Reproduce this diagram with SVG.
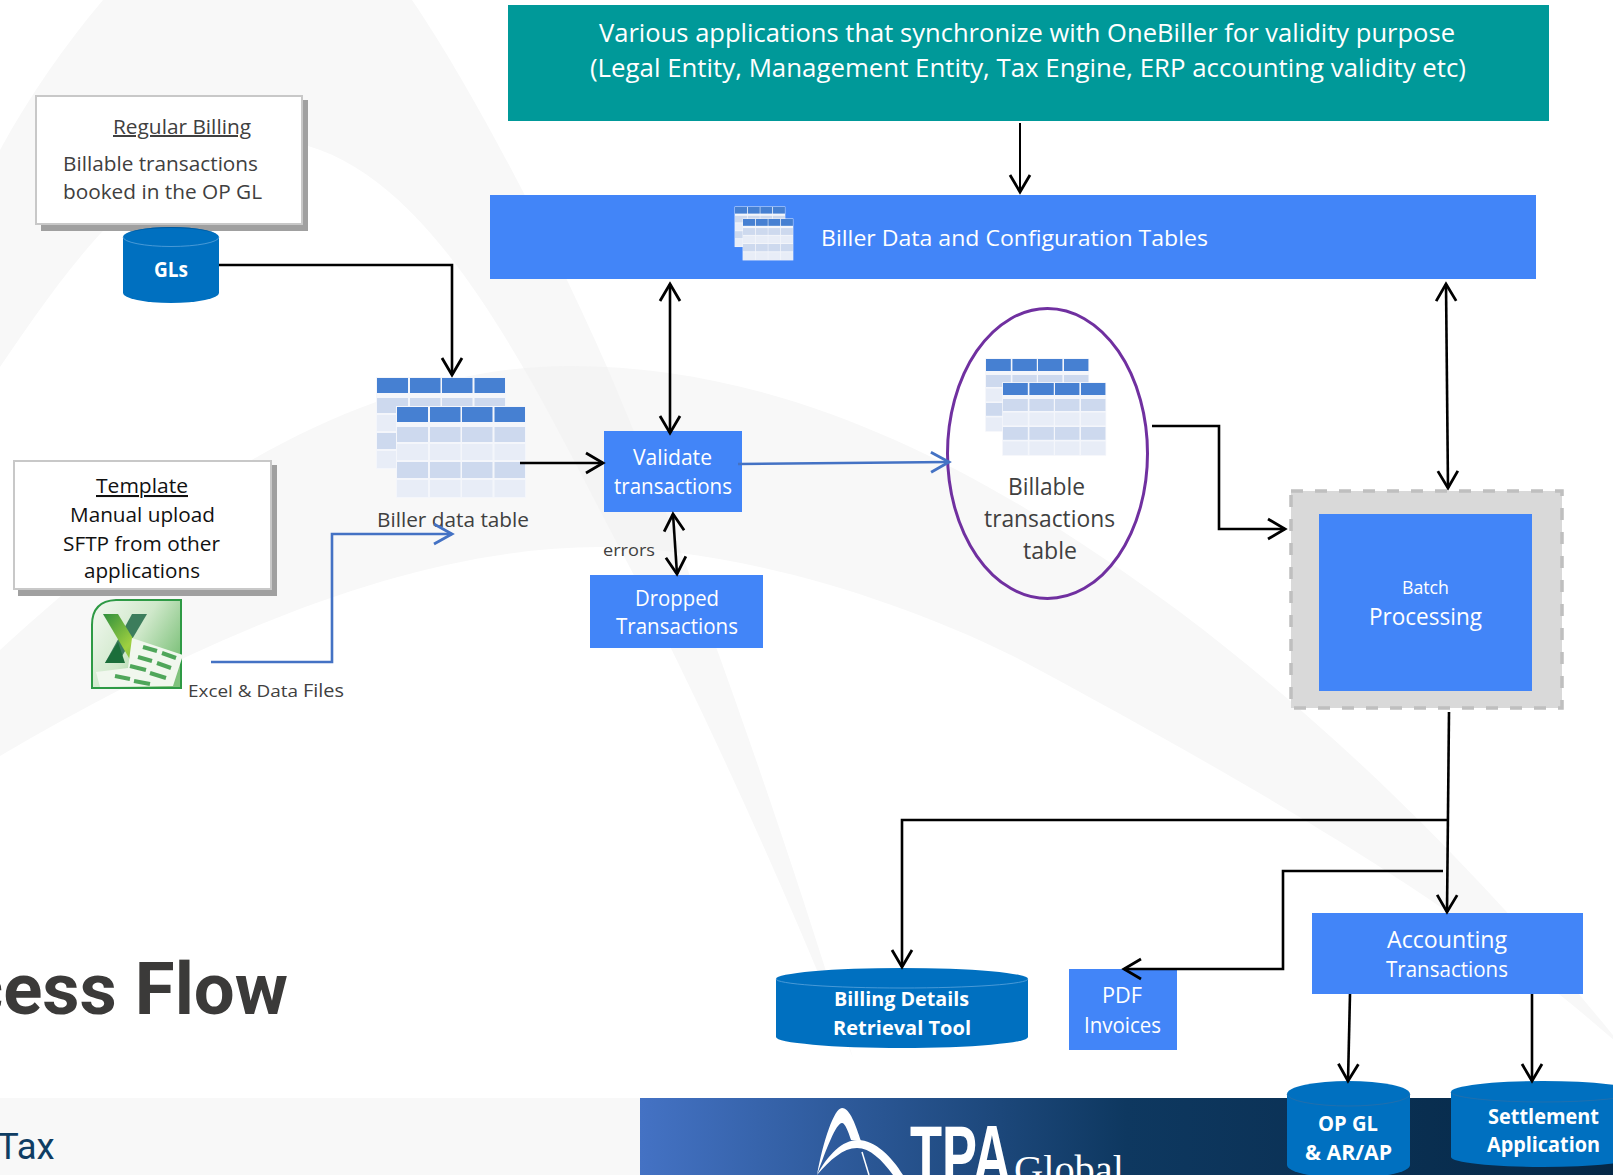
<svg xmlns="http://www.w3.org/2000/svg" width="1613" height="1175" viewBox="0 0 1613 1175">
<defs>
<style>
text{font-family:"Open Sans","Noto Sans","Liberation Sans",sans-serif}
.w{fill:#fff}.d{fill:#404040}.k{fill:#111}
.b{font-weight:700;fill:#fff}
.blue{fill:#4285f8}
.c{fill:none;stroke:#000;stroke-width:2.6;stroke-linejoin:miter}
.cb{fill:none;stroke:#4472c4;stroke-width:2.6}
.cyl{fill:#0070c0}
.rim{fill:none;stroke:#5aa3dc;stroke-width:.8}
.sh{fill:#a0a0a0}.box{fill:#fff;stroke:#c8c8c8;stroke-width:2}
.bg{fill:#f8f8f8}
.th{fill:#4680d2}.r1{fill:#cdd9ee}.r2{fill:#e8edf7}
</style>
<marker id="a" viewBox="-20 -12 24 24" markerUnits="userSpaceOnUse" markerWidth="24" markerHeight="24" refX="0" refY="0" orient="auto-start-reverse" overflow="visible"><path d="M-17,-10 L0,0 L-17,10" fill="none" stroke="#000" stroke-width="2.8"/></marker>
<marker id="ab" viewBox="-20 -12 24 24" markerUnits="userSpaceOnUse" markerWidth="24" markerHeight="24" refX="0" refY="0" orient="auto" overflow="visible"><path d="M-18,-10 L0,0 L-18,10" fill="none" stroke="#4472c4" stroke-width="2.8"/></marker>
<linearGradient id="banner" x1="0" x2="1" y1="0" y2="0"><stop offset="0" stop-color="#4472c4"/><stop offset=".5" stop-color="#0e3860"/><stop offset="1" stop-color="#062846"/></linearGradient>
<linearGradient id="xl" x1="0" x2="1" y1="0" y2=".6"><stop offset="0" stop-color="#f4f9f2"/><stop offset=".55" stop-color="#cfe8ca"/><stop offset="1" stop-color="#7fc27c"/></linearGradient>
<linearGradient id="xa" x1="0" x2="1" y1="0" y2="1"><stop offset="0" stop-color="#2f8f3c"/><stop offset=".6" stop-color="#9fd040"/><stop offset="1" stop-color="#5ba83a"/></linearGradient>
<clipPath id="bandclip"><path d="M0,650 C120,540 330,366 570,366 C800,366 1000,480 1180,612 C1330,725 1480,870 1625,1050 C1480,920 1300,810 1015,657 C880,590 720,548 600,547 C400,547 180,650 0,756Z"/></clipPath>
<g id="tbl">
<rect x="-1" y="-1" width="130" height="92" fill="#f4f6fb"/>
<g class="th"><rect width="31" height="15"/><rect x="33" width="30.500" height="15"/><rect x="65" width="30.500" height="15"/><rect x="97.500" width="30.500" height="15"/></g>
<g class="r1"><rect y="20" width="31" height="15"/><rect x="33" y="20" width="30.500" height="15"/><rect x="65" y="20" width="30.500" height="15"/><rect x="97.500" y="20" width="30.500" height="15"/></g>
<g class="r2"><rect y="37" width="31" height="16"/><rect x="33" y="37" width="30.500" height="16"/><rect x="65" y="37" width="30.500" height="16"/><rect x="97.500" y="37" width="30.500" height="16"/></g>
<g class="r1"><rect y="55" width="31" height="16"/><rect x="33" y="55" width="30.500" height="16"/><rect x="65" y="55" width="30.500" height="16"/><rect x="97.500" y="55" width="30.500" height="16"/></g>
<g class="r2"><rect y="73" width="31" height="17"/><rect x="33" y="73" width="30.500" height="17"/><rect x="65" y="73" width="30.500" height="17"/><rect x="97.500" y="73" width="30.500" height="17"/></g>
</g>
</defs>

<rect width="1613" height="1175" fill="#fff"/>
<g id="background">
<path class="bg" d="M0,650 C120,540 330,366 570,366 C800,366 1000,480 1180,612 C1330,725 1480,870 1625,1050 C1480,920 1300,810 1015,657 C880,590 720,548 600,547 C400,547 180,650 0,756Z"/>
<path class="bg" d="M0,150 C30,95 65,45 103,0 L412,0 C480,100 560,260 607,367 C690,560 790,850 853,1058 C790,900 700,700 627,562 C540,400 430,145 270,140 C150,140 60,280 0,367Z"/>
<path fill="#f4f4f4" clip-path="url(#bandclip)" d="M0,150 C30,95 65,45 103,0 L412,0 C480,100 560,260 607,367 C690,560 790,850 853,1058 C790,900 700,700 627,562 C540,400 430,145 270,140 C150,140 60,280 0,367Z"/>
<rect y="1098" width="640" height="77" fill="#f8f8f8"/>
<rect x="640" y="1098" width="973" height="77" fill="url(#banner)"/>
</g>

<g id="title"><text x="288" y="1014" text-anchor="end" style="font-family:Roboto,sans-serif;font-weight:700;font-size:72.500px" fill="#3b3a39">cess Flow</text></g>
<g id="footer-tax"><text x="-3" y="1159" style="font-family:Roboto,sans-serif;font-size:36.500px" fill="#0f3d63">Tax</text></g>
<g id="logo">
<path fill="#fff" d="M817,1175 C823,1142 834,1108 842,1108 C850,1108 856,1126 861,1141 L851,1140 C848,1131 845,1123 842,1123 C836,1123 826,1150 817,1175Z"/>
<path fill="#fff" d="M817,1175 C828,1155 842,1140 858,1140 C875,1140 892,1157 903,1175 L893,1175 C882,1160 870,1148 857,1148 C843,1148 830,1160 817,1175Z"/>
<path d="M862,1152 L869,1175" stroke="#fff" stroke-width="1.500" fill="none"/>
<text x="910" y="1184" textLength="101" lengthAdjust="spacingAndGlyphs" style="font-family:'Liberation Sans',sans-serif;font-weight:700;font-size:83px" fill="#fff">TPA</text>
<text x="1014" y="1183" textLength="110" lengthAdjust="spacingAndGlyphs" style="font-family:'Liberation Serif',serif;font-size:41px" fill="#fff">Global</text>
</g>

<g id="apps"><rect x="508" y="5" width="1041" height="116" fill="#009999"/>
<text class="w" x="599" y="42" textLength="856" lengthAdjust="spacingAndGlyphs" font-size="25">Various applications that synchronize with OneBiller for validity purpose</text>
<text class="w" x="590" y="77" textLength="876" lengthAdjust="spacingAndGlyphs" font-size="25">(Legal Entity, Management Entity, Tax Engine, ERP accounting validity etc)</text></g>

<g id="biller-config"><rect class="blue" x="490" y="195" width="1046" height="84"/>
<use href="#tbl" transform="translate(735 207) scale(.39 .44)"/>
<use href="#tbl" transform="translate(743 219) scale(.39 .455)"/>
<text class="w" x="821" y="246" textLength="387" lengthAdjust="spacingAndGlyphs" font-size="22">Biller Data and Configuration Tables</text></g>

<g id="regular-billing"><rect class="sh" x="41" y="100" width="267" height="131"/><rect class="box" x="36" y="96" width="266" height="128"/>
<text class="d" x="113" y="134" textLength="138" lengthAdjust="spacingAndGlyphs" font-size="20" text-decoration="underline">Regular Billing</text>
<text class="d" x="63" y="171" textLength="195" lengthAdjust="spacingAndGlyphs" font-size="20">Billable transactions</text>
<text class="d" x="63" y="199" textLength="199" lengthAdjust="spacingAndGlyphs" font-size="20">booked in the OP GL</text></g>

<g id="gls"><path class="cyl" d="M123,237 A48,10 0 0 1 219,237 V293 A48,10 0 0 1 123,293Z"/><path d="M123,237 A48,10 0 0 1 219,237 A48,9 0 0 0 123,237Z" fill="#005a9e"/><path class="rim" d="M123,237 A48,9.500 0 0 0 219,237"/>
<text class="b" x="154" y="277" textLength="34" lengthAdjust="spacingAndGlyphs" font-size="21">GLs</text></g>

<g id="template"><rect class="sh" x="18" y="465" width="259" height="131"/><rect class="box" x="14" y="461" width="257" height="128"/>
<text class="k" x="96" y="493" textLength="92" lengthAdjust="spacingAndGlyphs" font-size="20.500" text-decoration="underline">Template</text>
<text class="k" x="70" y="522" textLength="145" lengthAdjust="spacingAndGlyphs" font-size="20.500">Manual upload</text>
<text class="k" x="63" y="551" textLength="157" lengthAdjust="spacingAndGlyphs" font-size="20.500">SFTP from other</text>
<text class="k" x="84" y="578" textLength="116" lengthAdjust="spacingAndGlyphs" font-size="20.500">applications</text></g>

<g id="excel">
<path d="M92,688 V625 Q92,601 116,600 H181 V688Z" fill="url(#xl)" stroke="#2e9a45" stroke-width="2"/>
<path d="M132,614 H147 L118,663 H105Z" fill="#3c7d5c"/>
<path d="M105,663 H125 L118,642Z" fill="#1b6e3a"/>
<path d="M103,614 H118 L148,663 H132Z" fill="url(#xa)"/>
<path d="M132,638 L183,655 L173,686 L100,687 L96,672 L128,668Z" fill="#f1f7ee"/>
<path d="M143,647 L157,651 M162,653 L176,658 M138,657 L152,661 M157,663 L171,668 M130,666 L146,670 M150,673 L166,678 M115,676 L130,679 M134,681 L150,684" stroke="#4fa65a" stroke-width="4" fill="none"/>
</g>
<g id="excel-label"><text class="d" x="188" y="697" textLength="110" lengthAdjust="spacingAndGlyphs" font-size="17">Excel &amp; Data</text><text class="d" x="303" y="697" textLength="41" lengthAdjust="spacingAndGlyphs" font-size="19">Files</text></g>

<g id="biller-data-table"><use href="#tbl" transform="translate(377 378)"/><use href="#tbl" transform="translate(397 407)"/>
<text class="d" x="377" y="527" textLength="152" lengthAdjust="spacingAndGlyphs" font-size="20">Biller data table</text></g>

<g id="validate"><rect class="blue" x="604" y="431" width="138" height="81"/>
<text class="w" x="633" y="465" textLength="79" lengthAdjust="spacingAndGlyphs" font-size="21">Validate</text>
<text class="w" x="614" y="494" textLength="118" lengthAdjust="spacingAndGlyphs" font-size="21">transactions</text></g>

<g id="errors"><text class="d" x="603" y="556" textLength="52" lengthAdjust="spacingAndGlyphs" font-size="17">errors</text></g>

<g id="dropped"><rect class="blue" x="590" y="575" width="173" height="73"/>
<text class="w" x="635" y="606" textLength="84" lengthAdjust="spacingAndGlyphs" font-size="21">Dropped</text>
<text class="w" x="616" y="634" textLength="122" lengthAdjust="spacingAndGlyphs" font-size="21">Transactions</text></g>

<g id="billable"><ellipse cx="1047.500" cy="453.500" rx="100" ry="145" fill="none" stroke="#7030a0" stroke-width="3"/>
<use href="#tbl" transform="translate(986 359) scale(.8)"/><use href="#tbl" transform="translate(1003 383) scale(.8)"/>
<text class="d" x="1008" y="495" textLength="77" lengthAdjust="spacingAndGlyphs" font-size="23">Billable</text>
<text class="d" x="984" y="527" textLength="131" lengthAdjust="spacingAndGlyphs" font-size="23">transactions</text>
<text class="d" x="1023" y="559" textLength="54" lengthAdjust="spacingAndGlyphs" font-size="23">table</text></g>

<g id="batch"><rect x="1291" y="491" width="271" height="217" fill="#d9d9d9" stroke="#bfbfbf" stroke-width="3.500" stroke-dasharray="12 12"/>
<rect class="blue" x="1319" y="514" width="213" height="177"/>
<text class="w" x="1402" y="594" textLength="47" lengthAdjust="spacingAndGlyphs" font-size="18">Batch</text>
<text class="w" x="1369" y="625" textLength="113" lengthAdjust="spacingAndGlyphs" font-size="23">Processing</text></g>

<g id="accounting"><rect class="blue" x="1312" y="913" width="271" height="81"/>
<text class="w" x="1387" y="948" textLength="120" lengthAdjust="spacingAndGlyphs" font-size="24">Accounting</text>
<text class="w" x="1386" y="977" textLength="122" lengthAdjust="spacingAndGlyphs" font-size="21">Transactions</text></g>

<g id="pdf"><rect class="blue" x="1069" y="969" width="108" height="81"/>
<text class="w" x="1102" y="1003" textLength="40" lengthAdjust="spacingAndGlyphs" font-size="21">PDF</text>
<text class="w" x="1084" y="1033" textLength="77" lengthAdjust="spacingAndGlyphs" font-size="21">Invoices</text></g>

<g id="billing-details"><path class="cyl" d="M776,979 A126,11 0 0 1 1028,979 V1037 A126,11 0 0 1 776,1037Z"/><path class="rim" d="M776,979 A126,9 0 0 0 1028,979"/>
<text class="b" x="834" y="1006" textLength="135" lengthAdjust="spacingAndGlyphs" font-size="20">Billing Details</text>
<text class="b" x="833" y="1035" textLength="138" lengthAdjust="spacingAndGlyphs" font-size="20">Retrieval Tool</text></g>

<g id="op-gl"><path class="cyl" d="M1287,1094 A61.500,13 0 0 1 1410,1094 V1165 A61.500,13 0 0 1 1287,1165Z"/><path class="rim" d="M1287,1094 A61.500,12 0 0 0 1410,1094" style="stroke:#2a6ea8"/>
<text class="b" x="1318" y="1131" textLength="60" lengthAdjust="spacingAndGlyphs" font-size="21">OP GL</text>
<text class="b" x="1305" y="1160" textLength="87" lengthAdjust="spacingAndGlyphs" font-size="21">&amp; AR/AP</text></g>

<g id="settlement"><path class="cyl" d="M1451,1092 A92,11 0 0 1 1635,1092 V1157 A92,10 0 0 1 1451,1157Z"/><path class="rim" d="M1451,1092 A92,10 0 0 0 1635,1092" style="stroke:#2a6ea8"/>
<text class="b" x="1488" y="1124" textLength="111" lengthAdjust="spacingAndGlyphs" font-size="21">Settlement</text>
<text class="b" x="1487" y="1152" textLength="113" lengthAdjust="spacingAndGlyphs" font-size="21">Application</text></g>

<g id="connectors">
<path class="c" style="stroke-width:2" d="M1020,123 V192" marker-end="url(#a)"/>
<path class="c" d="M219,265 H452 V375" marker-end="url(#a)"/>
<path class="cb" d="M211,662 H332 V534 H452" marker-end="url(#ab)"/>
<path class="c" d="M520,463 H603" marker-end="url(#a)"/>
<path class="cb" d="M738,464 L949,462" marker-end="url(#ab)"/>
<path class="c" d="M670,284 V433" marker-start="url(#a)" marker-end="url(#a)"/>
<path class="c" d="M673,514 L677,574" marker-start="url(#a)" marker-end="url(#a)"/>
<path class="c" d="M1446,284 L1448,488" marker-start="url(#a)" marker-end="url(#a)"/>
<path class="c" d="M1152,426 H1219 V529 H1285" marker-end="url(#a)"/>
<path class="c" d="M1449,712 L1447,912" marker-end="url(#a)"/>
<path class="c" d="M1448,820 H902 V967" marker-end="url(#a)"/>
<path class="c" d="M1443,871 H1283 V969 H1124" marker-end="url(#a)"/>
<path class="c" d="M1350,994 L1348,1081" marker-end="url(#a)"/>
<path class="c" d="M1532,994 V1081" marker-end="url(#a)"/>
</g>
</svg>
